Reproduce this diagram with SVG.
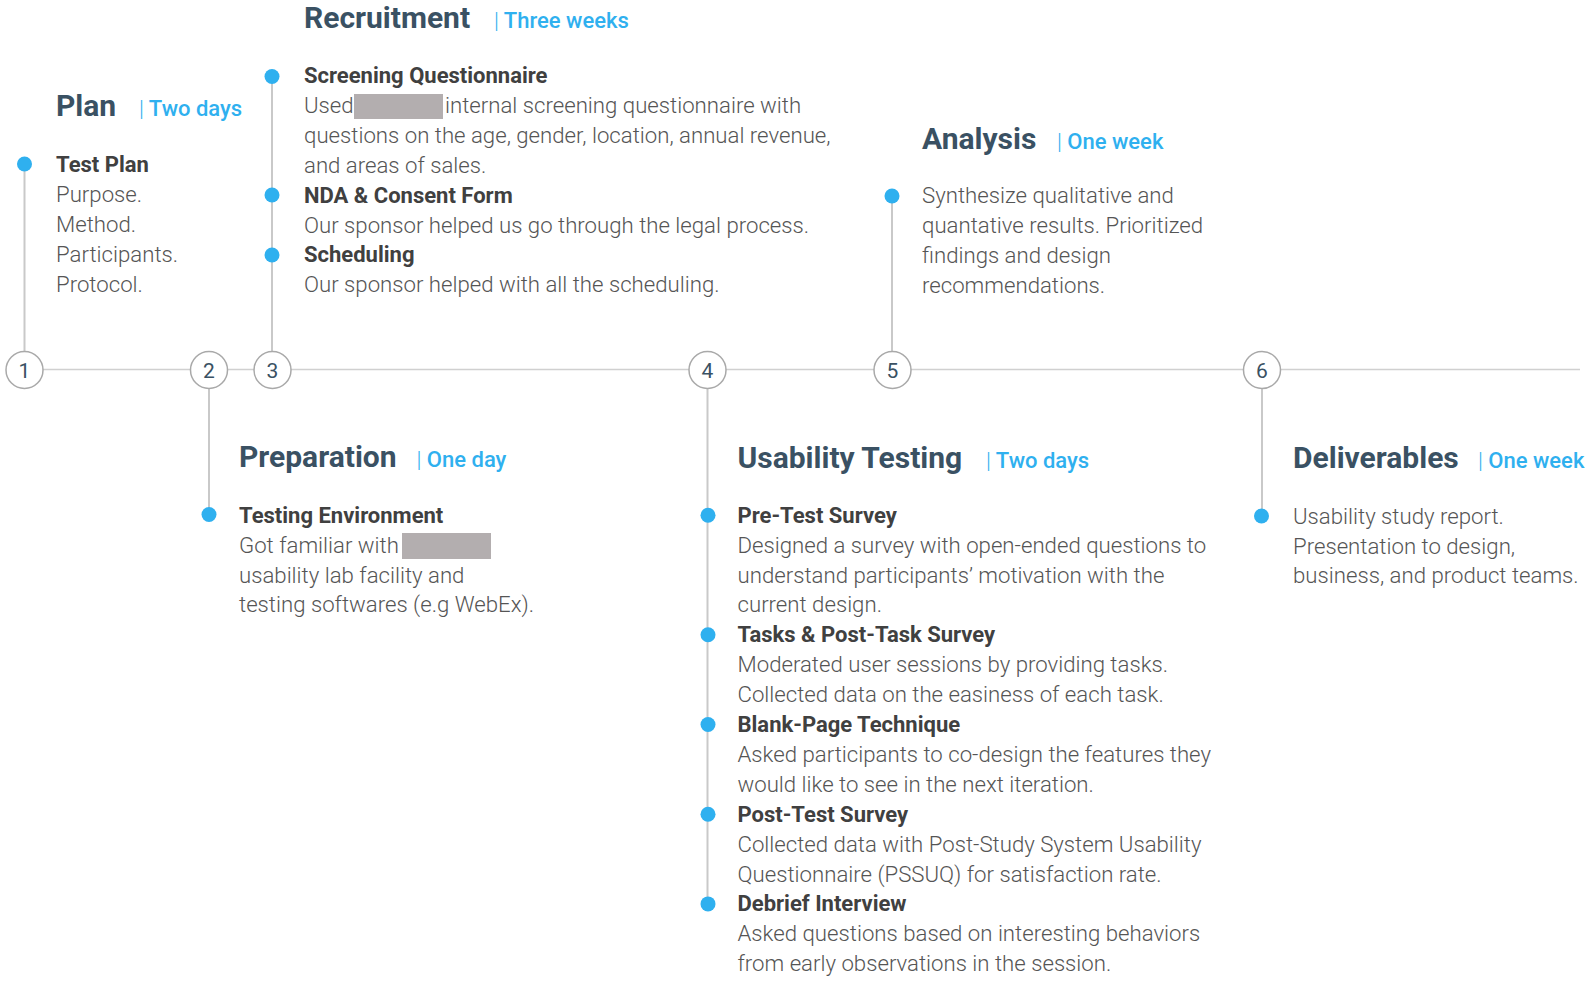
<svg xmlns="http://www.w3.org/2000/svg" width="1590" height="982" viewBox="0 0 1590 982">
<defs>
<style>
.h{font-family:Roboto,"Liberation Sans",sans-serif;font-weight:700;font-size:30px;fill:#3a5163}
.d{font-family:Roboto,"Liberation Sans",sans-serif;font-weight:500;font-size:22px;fill:#2fb0ef}
.d .bar{font-weight:300}
.s{font-family:Roboto,"Liberation Sans",sans-serif;font-weight:700;font-size:22px;fill:#404040}
.b{font-family:Roboto,"Liberation Sans",sans-serif;font-weight:300;font-size:22.2px;fill:#555}
.n{font-family:Roboto,"Liberation Sans",sans-serif;font-weight:400;font-size:21px;fill:#3a5163;text-anchor:middle}
.ring{fill:#fff;stroke:#a9a9a9;stroke-width:1.5}
.dot{fill:#2fb0ef}
.stem{stroke:#c9c9c9;stroke-width:2;fill:none}
.axis{stroke:#d0d0d0;stroke-width:1.5;fill:none}
.redact{fill:#b3aeaf}
</style>
<filter id="soft" x="-10%" y="-20%" width="120%" height="140%"><feGaussianBlur stdDeviation="0.7"/></filter>
</defs>
<rect width="1590" height="982" fill="#fff"/>

<g id="connectors">
<line class="axis" x1="24" y1="369.5" x2="1580" y2="369.5"/>
<line class="stem" x1="24.5" y1="164" x2="24.5" y2="352"/>
<line class="stem" x1="209" y1="388" x2="209" y2="514"/>
<line class="stem" x1="272" y1="76.5" x2="272" y2="352"/>
<line class="stem" x1="707.5" y1="388" x2="707.5" y2="904"/>
<line class="stem" x1="892" y1="196" x2="892" y2="352"/>
<line class="stem" x1="1262" y1="388" x2="1262" y2="516"/>
</g>

<g id="step-1">
<circle class="ring" cx="24.5" cy="370" r="18.5"/>
<text class="n" x="24.5" y="378">1</text>
</g>
<g id="step-2">
<circle class="ring" cx="209" cy="370" r="18.5"/>
<text class="n" x="209" y="378">2</text>
</g>
<g id="step-3">
<circle class="ring" cx="272.5" cy="370" r="18.5"/>
<text class="n" x="272.5" y="378">3</text>
</g>
<g id="step-4">
<circle class="ring" cx="707.5" cy="370" r="18.5"/>
<text class="n" x="707.5" y="378">4</text>
</g>
<g id="step-5">
<circle class="ring" cx="892.5" cy="370" r="18.5"/>
<text class="n" x="892.5" y="378">5</text>
</g>
<g id="step-6">
<circle class="ring" cx="1262" cy="370" r="18.5"/>
<text class="n" x="1262" y="378">6</text>
</g>

<g id="phase-plan">
<text class="h" x="56" y="116">Plan</text>
<text class="d" x="139" y="116"><tspan class="bar">|</tspan> Two days</text>
<circle class="dot" cx="24.5" cy="164" r="7.5"/>
<text class="s" x="56" y="172">Test Plan</text>
<text class="b" x="56" y="202">Purpose.</text>
<text class="b" x="56" y="232">Method.</text>
<text class="b" x="56" y="261.7">Participants.</text>
<text class="b" x="56" y="291.5">Protocol.</text>
</g>

<g id="phase-recruitment">
<text class="h" x="304" y="27.5">Recruitment</text>
<text class="d" x="494" y="27.5"><tspan class="bar">|</tspan> Three weeks</text>
<circle class="dot" cx="272" cy="76.5" r="7.5"/>
<text class="s" x="304" y="83">Screening Questionnaire</text>
<text class="b" x="304" y="113">Used</text>
<rect class="redact" x="354" y="94" width="89" height="25" filter="url(#soft)"/>
<text class="b" x="445" y="113">internal screening questionnaire with</text>
<text class="b" x="304" y="143">questions on the age, gender, location, annual revenue,</text>
<text class="b" x="304" y="173">and areas of sales.</text>
<circle class="dot" cx="272" cy="195" r="7.5"/>
<text class="s" x="304" y="202.5">NDA &amp; Consent Form</text>
<text class="b" x="304" y="232.5">Our sponsor helped us go through the legal process.</text>
<circle class="dot" cx="272" cy="255" r="7.5"/>
<text class="s" x="304" y="262.3">Scheduling</text>
<text class="b" x="304" y="292.3">Our sponsor helped with all the scheduling.</text>
</g>

<g id="phase-analysis">
<text class="h" x="922" y="149">Analysis</text>
<text class="d" x="1057" y="149"><tspan class="bar">|</tspan> One week</text>
<circle class="dot" cx="892" cy="196" r="7.5"/>
<text class="b" x="922" y="203">Synthesize qualitative and</text>
<text class="b" x="922" y="233">quantative results. Prioritized</text>
<text class="b" x="922" y="263">findings and design</text>
<text class="b" x="922" y="293">recommendations.</text>
</g>

<g id="phase-preparation">
<text class="h" x="239" y="467">Preparation</text>
<text class="d" x="416.5" y="467"><tspan class="bar">|</tspan> One day</text>
<circle class="dot" cx="209" cy="514.5" r="7.5"/>
<text class="s" x="239" y="522.7">Testing Environment</text>
<text class="b" x="239" y="552.6">Got familiar with</text>
<rect class="redact" x="402" y="533" width="89" height="26" filter="url(#soft)"/>
<text class="b" x="239" y="582.5">usability lab facility and</text>
<text class="b" x="239" y="612.4">testing softwares (e.g WebEx).</text>
</g>

<g id="phase-usability-testing">
<text class="h" x="737.5" y="468">Usability Testing</text>
<text class="d" x="986" y="468"><tspan class="bar">|</tspan> Two days</text>
<circle class="dot" cx="708" cy="515.2" r="7.5"/>
<text class="s" x="737.5" y="522.7">Pre-Test Survey</text>
<text class="b" x="737.5" y="552.6">Designed a survey with open-ended questions to</text>
<text class="b" x="737.5" y="582.5">understand participants’ motivation with the</text>
<text class="b" x="737.5" y="612.4">current design.</text>
<circle class="dot" cx="708" cy="634.8" r="7.5"/>
<text class="s" x="737.5" y="642.3">Tasks &amp; Post-Task Survey</text>
<text class="b" x="737.5" y="672.2">Moderated user sessions by providing tasks.</text>
<text class="b" x="737.5" y="702.1">Collected data on the easiness of each task.</text>
<circle class="dot" cx="708" cy="724.5" r="7.5"/>
<text class="s" x="737.5" y="732">Blank-Page Technique</text>
<text class="b" x="737.5" y="761.9">Asked participants to co-design the features they</text>
<text class="b" x="737.5" y="791.8">would like to see in the next iteration.</text>
<circle class="dot" cx="708" cy="814.2" r="7.5"/>
<text class="s" x="737.5" y="821.7">Post-Test Survey</text>
<text class="b" x="737.5" y="851.6">Collected data with Post-Study System Usability</text>
<text class="b" x="737.5" y="881.5">Questionnaire (PSSUQ) for satisfaction rate.</text>
<circle class="dot" cx="708" cy="903.9" r="7.5"/>
<text class="s" x="737.5" y="911.4">Debrief Interview</text>
<text class="b" x="737.5" y="941.3">Asked questions based on interesting behaviors</text>
<text class="b" x="737.5" y="971.2">from early observations in the session.</text>
</g>

<g id="phase-deliverables">
<text class="h" x="1293" y="467.7">Deliverables</text>
<text class="d" x="1478" y="467.7"><tspan class="bar">|</tspan> One week</text>
<circle class="dot" cx="1261.5" cy="516" r="7.5"/>
<text class="b" x="1293" y="524">Usability study report.</text>
<text class="b" x="1293" y="553.7">Presentation to design,</text>
<text class="b" x="1293" y="583.4">business, and product teams.</text>
</g>
</svg>
